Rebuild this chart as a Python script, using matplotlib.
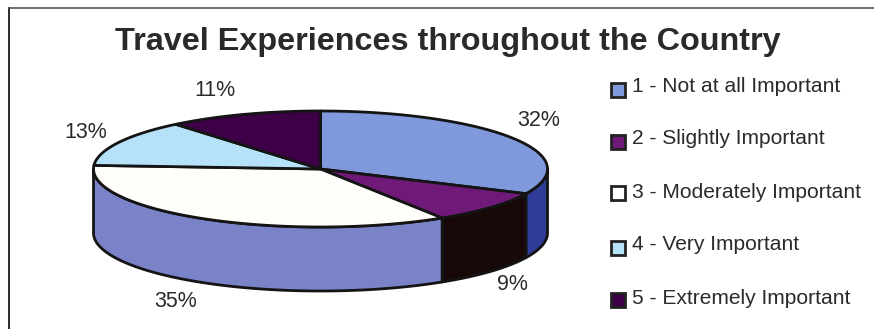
import numpy as np
import matplotlib
matplotlib.use("Agg")
import matplotlib.pyplot as plt
from matplotlib.patches import Polygon, Rectangle

plt.rcParams['font.family'] = ['Liberation Sans', 'DejaVu Sans']

title = "Travel Experiences throughout the Country"
categories = ["1 - Not at all Important", "2 - Slightly Important",
              "3 - Moderately Important", "4 - Very Important",
              "5 - Extremely Important"]
values = [32, 9, 35, 13, 11]
top_colors = ["#8099dc", "#6f1a78", "#fffefb", "#b5e2f8", "#3d0047"]
side_colors = ["#2f3c98", "#180808", "#7a82c8", "#7a82c8", "#3d0047"]
legend_colors = ["#8099dc", "#6f1a78", "#ffffff", "#b5e2f8", "#3d0047"]
text_color = "#2a2a2a"
edge = "#141414"

W, H = 874, 329
fig = plt.figure(figsize=(W / 100, H / 100), dpi=100, facecolor="white")
ax = fig.add_axes([0, 0, 1, 1])
ax.set_xlim(0, W)
ax.set_ylim(H, 0)
ax.axis("off")

# frame
ax.plot([9, 9], [329, 7.5], color="#2a2a2a", lw=1.4)
ax.plot([9, 874], [7.5, 7.5], color="#555555", lw=1.2)

cx, cy, rx, ry, depth = 320.5, 169, 227, 58, 64


def pt(t):
    return cx + rx * np.sin(t), cy - ry * np.cos(t)


fractions = np.cumsum([0] + values) / sum(values) * 2 * np.pi
for i in range(len(values)):
    a = max(fractions[i], np.pi / 2)
    b = min(fractions[i + 1], 3 * np.pi / 2)
    if b <= a:
        continue
    t = np.linspace(a, b, 120)
    x, y = pt(t)
    xy = np.r_[np.c_[x, y], np.c_[x, y + depth][::-1]]
    ax.add_patch(Polygon(xy, closed=True, fc=side_colors[i], ec=edge, lw=2.0, joinstyle="round", zorder=2))

for i in range(len(values)):
    t = np.linspace(fractions[i], fractions[i + 1], 120)
    x, y = pt(t)
    xy = np.r_[[[cx, cy]], np.c_[x, y]]
    ax.add_patch(Polygon(xy, closed=True, fc=top_colors[i], ec=edge, lw=2.0, joinstyle="round", zorder=3))

ax.text(448, 42, title, ha="center", va="center", fontsize=23.3, fontweight="bold", color=text_color)

label_pos = [(539, 121), (512, 285), (176, 301.5), (86, 132.5), (215, 91)]
for v, (lx, ly) in zip(values, label_pos):
    ax.text(lx, ly, f"{v}%", ha="center", va="center", fontsize=15.5, color=text_color)

leg_y = [90, 142, 193, 248, 300]
text_y = [87, 139, 192, 245, 298]
for c, name, ly, ty in zip(legend_colors, categories, leg_y, text_y):
    ax.add_patch(Rectangle((610.5, ly - 7), 14, 14, fc=c, ec="#222222", lw=2.0, zorder=3))
    ax.text(632, ty, name, ha="left", va="center", fontsize=15.1, color=text_color)

fig.savefig("out.png", dpi=100)
